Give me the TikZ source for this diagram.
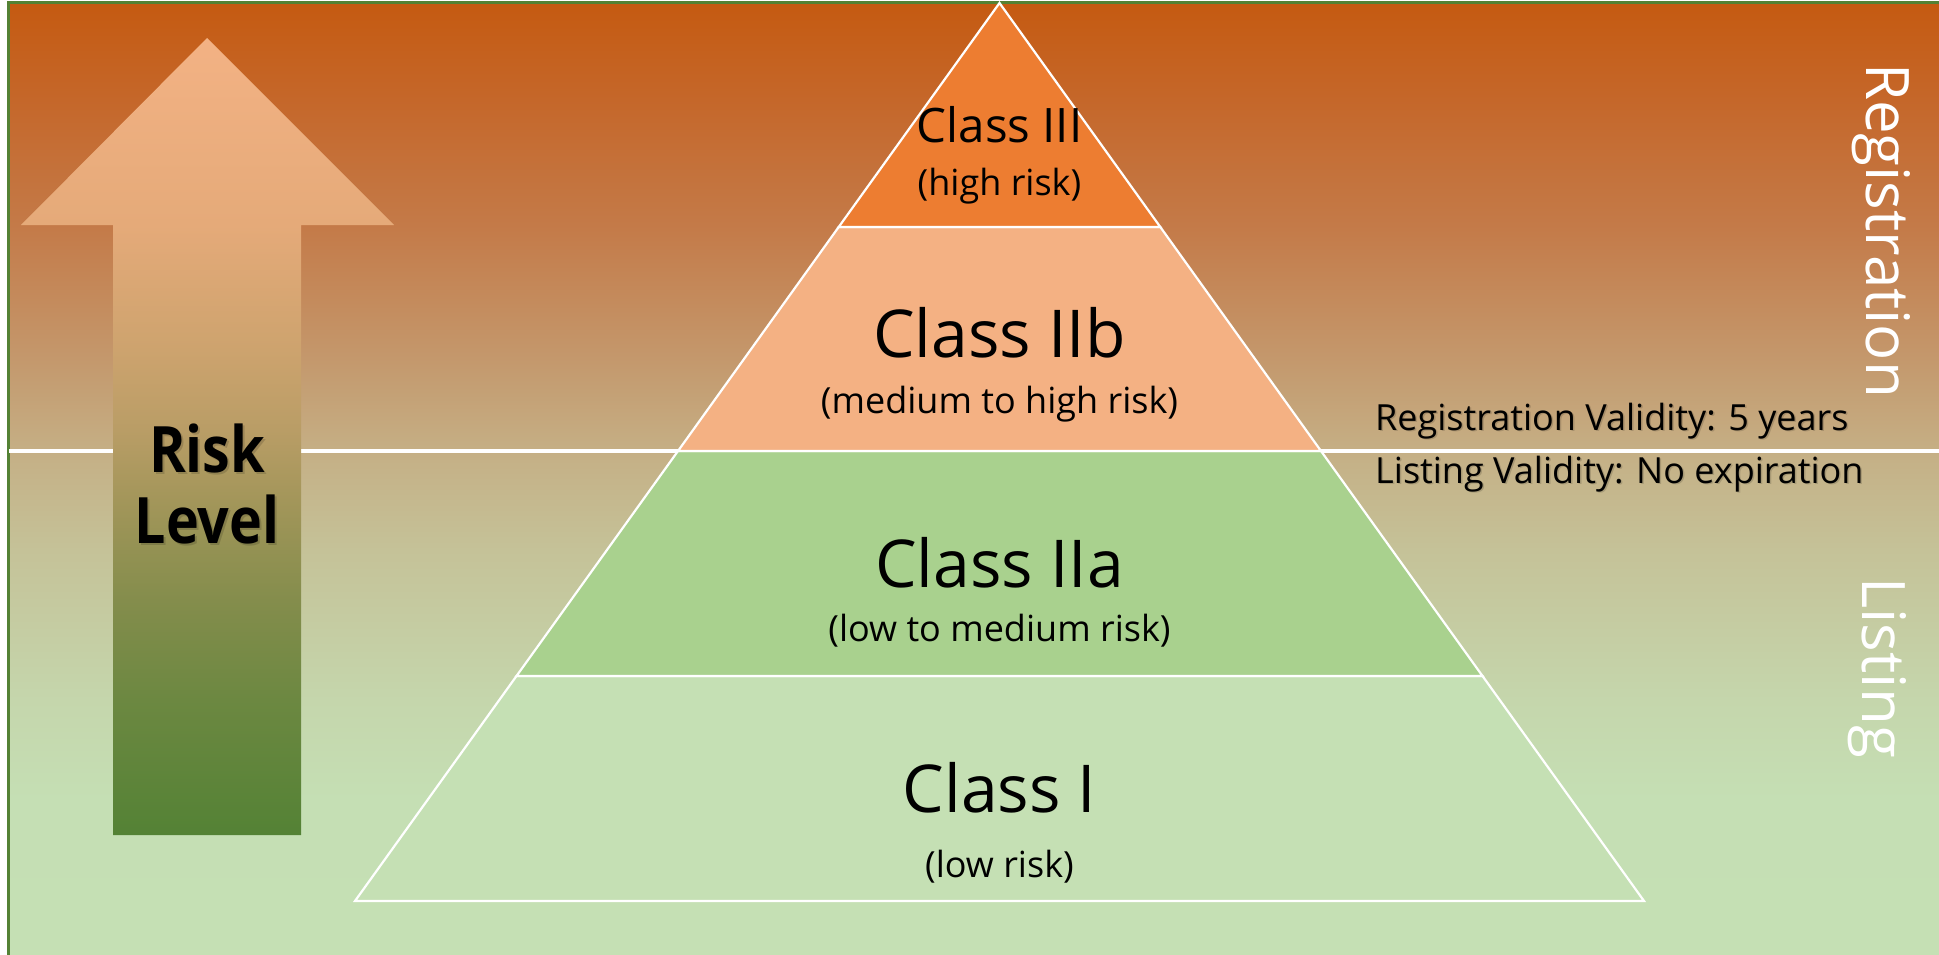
\documentclass[tikz,border=0pt]{standalone}
\usepackage{fontspec}
\setmainfont{Open Sans}
\newfontfamily\riskfont[FakeStretch=0.87]{Open Sans}
\definecolor{frameg}{RGB}{84,130,53}
\definecolor{bgA}{RGB}{197,224,180}
\definecolor{bgB}{RGB}{197,223,180}
\definecolor{bgC}{RGB}{197,214,172}
\definecolor{bgD}{RGB}{197,194,152}
\definecolor{bgE}{RGB}{197,176,134}
\definecolor{bgF}{RGB}{196,150,106}
\definecolor{bgG}{RGB}{196,122,72}
\definecolor{bgH}{RGB}{197,103,42}
\definecolor{bgI}{RGB}{197,90,17}
\definecolor{arA}{RGB}{84,130,53}
\definecolor{arB}{RGB}{108,136,65}
\definecolor{arC}{RGB}{132,141,76}
\definecolor{arD}{RGB}{163,150,90}
\definecolor{arE}{RGB}{185,157,102}
\definecolor{arF}{RGB}{205,163,110}
\definecolor{arG}{RGB}{229,170,121}
\definecolor{arH}{RGB}{243,178,132}
\definecolor{tierIII}{RGB}{237,125,49}
\definecolor{tierIIb}{RGB}{244,177,131}
\definecolor{tierIIa}{RGB}{169,209,142}
\definecolor{tierI}{RGB}{197,224,180}
\pgfdeclareverticalshading{bgshade}{100bp}{color(0bp)=(bgA); color(25bp)=(bgA); color(33.13bp)=(bgB); color(38.38bp)=(bgC); color(46.25bp)=(bgD); color(51.23bp)=(bgE); color(56.74bp)=(bgF); color(63.30bp)=(bgG); color(69.86bp)=(bgH); color(75bp)=(bgI); color(100bp)=(bgI)}
\pgfdeclareverticalshading{arrowshade}{100bp}{color(0bp)=(arA); color(25bp)=(arA); color(33.47bp)=(arB); color(39.74bp)=(arC); color(46.02bp)=(arD); color(50.41bp)=(arE); color(55.43bp)=(arF); color(63.27bp)=(arG); color(75bp)=(arH); color(100bp)=(arH)}
\tikzset{
  tier/.style={draw=white, line width=2.2pt, line join=miter},
  lbl/.style={inner sep=0pt, anchor=base, text=black},
  bigclass/.style={lbl, font=\fontsize{66}{70}\selectfont},
  midclass/.style={lbl, font=\fontsize{47.5}{50}\selectfont},
  subtext/.style={lbl, font=\fontsize{36}{40}\selectfont},
  validity/.style={inner sep=0pt, anchor=base west, font=\fontsize{36}{40}\selectfont},
  sidetext/.style={inner sep=0pt, anchor=base west, rotate=-90, text=white, font=\fontsize{60}{62}\selectfont},
  risktext/.style={inner sep=0pt, anchor=base, font=\riskfont\bfseries\fontsize{64}{70}\selectfont},
}
\begin{document}
\begin{tikzpicture}[x=1pt,y=-1pt]
\useasboundingbox (0,0) rectangle (1939,955);
\fill[white] (0,0) rectangle (1939,955);
% background
\shade[shading=bgshade] (8,2) rectangle (1939,955);
\draw[frameg, line width=2.5pt] (8.5,955) -- (8.5,2.5) -- (1939,2.5);
% divider line
\coordinate (divL) at (9,451);
\coordinate (divR) at (1939,451);
\draw[white, line width=3.5pt] (divL) -- (divR);
% arrow
\shade[shading=arrowshade] (207,38) -- (394,225) -- (301,225) -- (301,835) -- (113,835) -- (113,225) -- (21,225) -- cycle;
% pyramid
\coordinate (apex) at (999.5,3);
\coordinate (l1) at (838.7,227);  \coordinate (r1) at (1160.3,227);
\coordinate (l2) at (678.0,451);  \coordinate (r2) at (1321.0,451);
\coordinate (l3) at (516.5,676);  \coordinate (r3) at (1482.5,676);
\coordinate (l4) at (355,901);    \coordinate (r4) at (1644,901);
\filldraw[tier, fill=tierI] (l3) -- (r3) -- (r4) -- (l4) -- cycle;
\filldraw[tier, fill=tierIIa] (l2) -- (r2) -- (r3) -- (l3) -- cycle;
\filldraw[tier, fill=tierIIb] (l1) -- (r1) -- (r2) -- (l2) -- cycle;
\filldraw[tier, fill=tierIII] (apex) -- (r1) -- (l1) -- cycle;
% labels
\node[midclass] (c3) at (999.5,143) {Class III};
\node[subtext] (c3s) at (999.5,195) {(high risk)};
\node[bigclass] (c2b) at (999.5,357) {Class IIb};
\node[subtext] (c2bs) at (999.5,413) {(medium to high risk)};
\node[bigclass] (c2a) at (999.5,587) {Class IIa};
\node[subtext] (c2as) at (999.5,641) {(low to medium risk)};
\node[bigclass] (c1) at (999.5,812) {Class I};
\node[subtext] (c1s) at (999.5,877) {(low risk)};
% risk level
\node[risktext, text=black, opacity=0.15] (risk1s) at (209,474) {Risk};
\node[risktext, text=black, opacity=0.15] (risk2s) at (209,545) {Level};
\node[risktext, text=black] (risk1) at (207,472) {Risk};
\node[risktext, text=black] (risk2) at (207,543) {Level};
% validity
\node[validity, text=black, opacity=0.15] (regvs) at (1376.5,431.5) {Registration Validity: 5 years};
\node[validity, text=black, opacity=0.15] (lstvs) at (1376.5,484.5) {Listing Validity: No expiration};
\node[validity, text=black] (regv) at (1375,430) {Registration Validity: 5 years};
\node[validity, text=black] (lstv) at (1375,483) {Listing Validity: No expiration};
% side labels
\node[sidetext] (reg) at (1866,63) {Registration};
\node[sidetext] (lst) at (1862,577) {Listing};
\end{tikzpicture}
\end{document}
